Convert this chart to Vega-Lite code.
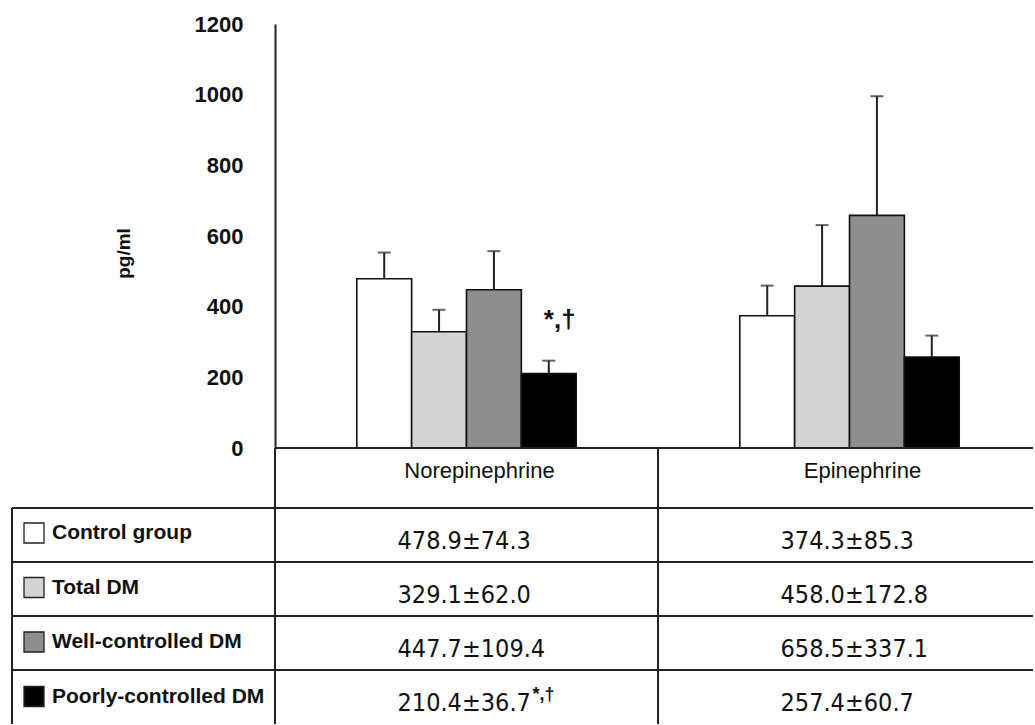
{
  "$schema": "https://vega.github.io/schema/vega-lite/v6.json",
  "padding": {"left": 11, "top": 13, "right": 0, "bottom": 0},
  "background": "white",
  "spacing": 0,
  "bounds": "flush",
  "config": {
    "view": {"stroke": null},
    "font": "Liberation Sans"
  },
  "datasets": {
    "stats": [
      {"hormone": "Norepinephrine", "group": "Control group", "mean": 478.9, "sd": 74.3, "note": ""},
      {"hormone": "Norepinephrine", "group": "Total DM", "mean": 329.1, "sd": 62.0, "note": ""},
      {"hormone": "Norepinephrine", "group": "Well-controlled DM", "mean": 447.7, "sd": 109.4, "note": ""},
      {"hormone": "Norepinephrine", "group": "Poorly-controlled DM", "mean": 210.4, "sd": 36.7, "note": "*,†"},
      {"hormone": "Epinephrine", "group": "Control group", "mean": 374.3, "sd": 85.3, "note": ""},
      {"hormone": "Epinephrine", "group": "Total DM", "mean": 458.0, "sd": 172.8, "note": ""},
      {"hormone": "Epinephrine", "group": "Well-controlled DM", "mean": 658.5, "sd": 337.1, "note": ""},
      {"hormone": "Epinephrine", "group": "Poorly-controlled DM", "mean": 257.4, "sd": 60.7, "note": ""}
    ],
    "cols": [
      {"hormone": "Norepinephrine"},
      {"hormone": "Epinephrine"}
    ]
  },
  "resolve": {"scale": {"x": "independent", "y": "independent"}},
  "vconcat": [
    {
      "width": 1021,
      "height": 424,
      "data": {"name": "stats"},
      "encoding": {
        "x": {
          "field": "hormone", "type": "nominal",
          "scale": {"domain": ["Norepinephrine", "Epinephrine"], "range": [263, 1029], "paddingInner": 0.4271, "paddingOuter": 0.2135},
          "axis": null
        },
        "xOffset": {
          "field": "group", "type": "nominal",
          "scale": {"domain": ["Control group", "Total DM", "Well-controlled DM", "Poorly-controlled DM"], "paddingInner": 0, "paddingOuter": 0}
        }
      },
      "layer": [
        {
          "mark": {"type": "errorbar", "ticks": true, "size": 13, "thickness": 2, "color": "#222"},
          "encoding": {
            "y": {"field": "mean", "type": "quantitative", "scale": {"domain": [0, 1200], "nice": false}, "title": "pg/ml"},
            "yError": {"field": "sd"}
          }
        },
        {
          "mark": {"type": "bar", "stroke": "#111", "strokeWidth": 1.6},
          "encoding": {
            "y": {
              "field": "mean", "type": "quantitative",
              "scale": {"domain": [0, 1200], "nice": false},
              "axis": {
                "title": "pg/ml",
                "values": [0, 200, 400, 600, 800, 1000, 1200],
                "format": "d",
                "offset": -263,
                "grid": false,
                "ticks": false,
                "tickSize": 0,
                "domain": true,
                "domainColor": "#222",
                "domainWidth": 2,
                "labelFont": "Liberation Sans",
                "labelFontWeight": "bold",
                "labelFontSize": 22,
                "labelColor": "#111",
                "labelPadding": 32,
                "titleFont": "Liberation Sans",
                "titleFontWeight": "bold",
                "titleFontSize": 19,
                "titleColor": "#111",
                "titleAngle": 270,
                "titleX": -152,
                "titleY": 229,
                "titleAlign": "center",
                "titleBaseline": "middle"
              }
            },
            "fill": {
              "field": "group", "type": "nominal",
              "scale": {
                "domain": ["Control group", "Total DM", "Well-controlled DM", "Poorly-controlled DM"],
                "range": ["#ffffff", "#d3d3d3", "#8e8e8e", "#000000"]
              },
              "legend": {
                "orient": "none",
                "legendX": 11,
                "legendY": 498,
                "direction": "vertical",
                "title": null,
                "padding": 0,
                "symbolType": "square",
                "symbolSize": 400,
                "symbolStrokeColor": "#222",
                "symbolStrokeWidth": 1.3,
                "labelFont": "Liberation Sans",
                "labelFontWeight": "bold",
                "labelFontSize": 21,
                "labelColor": "#111",
                "labelOffset": 7,
                "labelLimit": 400,
                "rowPadding": 28.5
              }
            }
          }
        },
        {
          "transform": [{"filter": "datum.note != ''"}],
          "mark": {"type": "text", "fontSize": 26, "fontWeight": "bold", "color": "#111", "baseline": "alphabetic", "align": "center", "dx": 11, "dy": -46},
          "encoding": {
            "y": {"field": "mean", "type": "quantitative", "scale": {"domain": [0, 1200], "nice": false}},
            "text": {"field": "note"}
          }
        }
      ]
    },
    {
      "width": 1021,
      "height": 60,
      "data": {"name": "cols"},
      "encoding": {
        "x": {
          "field": "hormone", "type": "nominal",
          "scale": {"domain": ["Norepinephrine", "Epinephrine"], "range": [263, 1029], "paddingInner": 0, "paddingOuter": 0},
          "axis": null
        }
      },
      "layer": [
        {
          "mark": {"type": "rule", "color": "#222", "strokeWidth": 2},
          "encoding": {
            "x": {"field": "hormone", "type": "nominal", "bandPosition": 0}
          }
        },
        {
          "mark": {"type": "rule", "color": "#222", "strokeWidth": 2},
          "encoding": {
            "x": {"field": "hormone", "type": "nominal", "bandPosition": 0},
            "x2": {"value": "width"},
            "y": {"value": 0}
          }
        },
        {
          "mark": {"type": "text", "fontSize": 22, "color": "#111", "align": "center", "baseline": "alphabetic", "dx": 13},
          "encoding": {
            "x": {"field": "hormone", "type": "nominal", "bandPosition": 0.5},
            "y": {
              "datum": "header", "type": "nominal",
              "scale": {"domain": ["header"], "paddingInner": 0, "paddingOuter": 0},
              "bandPosition": 0.64,
              "axis": null
            },
            "text": {"field": "hormone"}
          }
        }
      ]
    },
    {
      "width": 1021,
      "height": 216,
      "data": {"name": "stats"},
      "encoding": {
        "x": {
          "field": "hormone", "type": "nominal",
          "scale": {"domain": ["Norepinephrine", "Epinephrine"], "range": [263, 1029], "paddingInner": 0, "paddingOuter": 0},
          "axis": null
        },
        "y": {
          "field": "group", "type": "nominal",
          "scale": {"domain": ["Control group", "Total DM", "Well-controlled DM", "Poorly-controlled DM"], "paddingInner": 0, "paddingOuter": 0},
          "axis": null
        }
      },
      "layer": [
        {
          "mark": {"type": "rule", "color": "#222", "strokeWidth": 2},
          "encoding": {
            "x": null,
            "y": {"field": "group", "type": "nominal", "bandPosition": 0}
          }
        },
        {
          "mark": {"type": "rule", "color": "#222", "strokeWidth": 2},
          "encoding": {
            "y": null,
            "x": {"field": "hormone", "type": "nominal", "bandPosition": 0}
          }
        },
        {
          "mark": {"type": "rule", "color": "#222", "strokeWidth": 2},
          "encoding": {
            "y": null,
            "x": {"value": 0}
          }
        },
        {
          "mark": {
            "type": "text",
            "font": "DejaVu Sans Condensed",
            "fontSize": 25,
            "color": "#111",
            "align": "left",
            "baseline": "alphabetic",
            "text": {"expr": "format(datum.mean, '.1f') + '±' + format(datum.sd, '.1f')"}
          },
          "encoding": {
            "x": {"field": "hormone", "type": "nominal", "bandPosition": 0.32},
            "y": {"field": "group", "type": "nominal", "bandPosition": 0.75}
          }
        },
        {
          "transform": [{"filter": "datum.note != ''"}],
          "mark": {"type": "text", "fontSize": 18, "fontWeight": "bold", "color": "#111", "align": "left", "baseline": "alphabetic", "dx": 135, "dy": -11},
          "encoding": {
            "x": {"field": "hormone", "type": "nominal", "bandPosition": 0.32},
            "y": {"field": "group", "type": "nominal", "bandPosition": 0.75},
            "text": {"field": "note"}
          }
        }
      ]
    }
  ]
}
